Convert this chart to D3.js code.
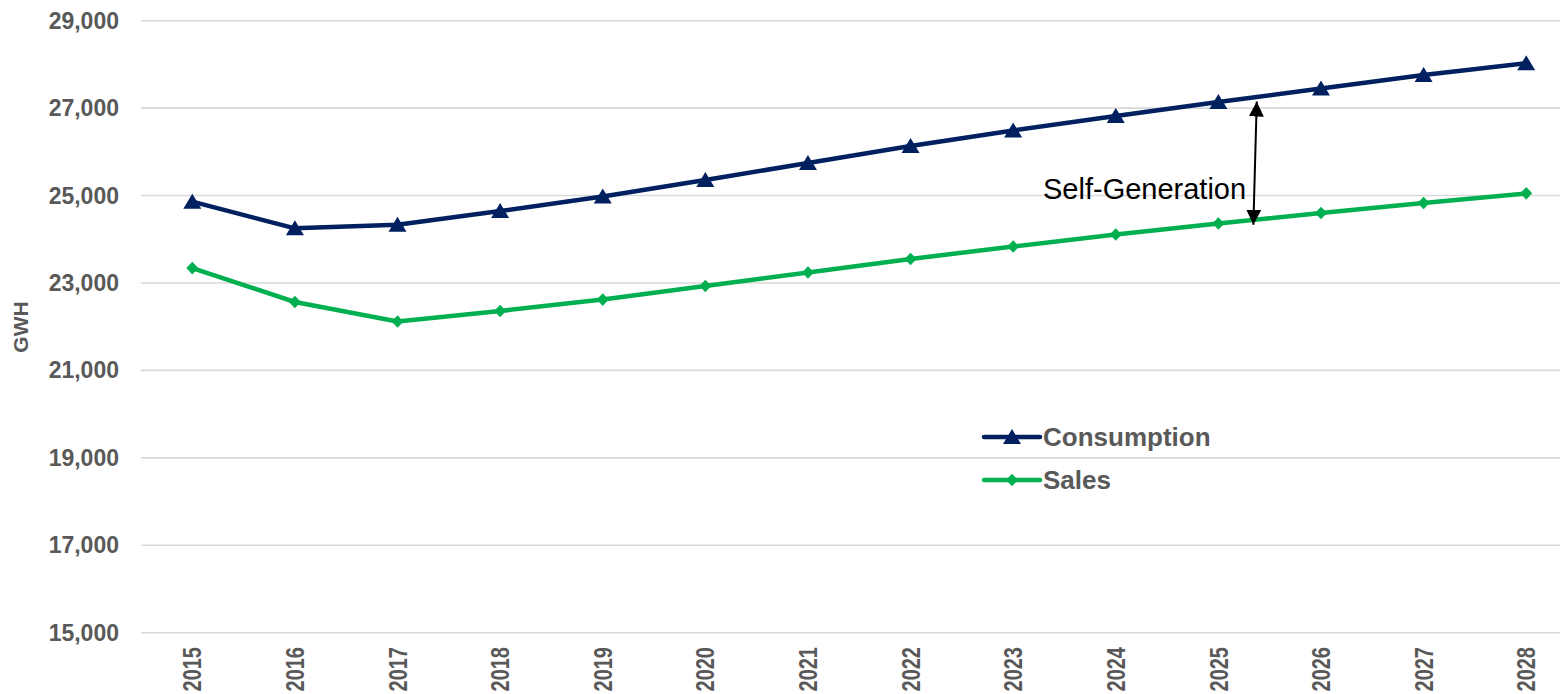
<!DOCTYPE html>
<html>
<head>
<meta charset="utf-8">
<script src="https://cdn.jsdelivr.net/npm/d3@7"></script>
<style>
  html, body { margin: 0; padding: 0; background: #fff; }
  svg { display: block; font-family: "Liberation Sans", Arial, sans-serif; }
</style>
</head>
<body>
<svg id="chart" width="1560" height="694"></svg>
<script>
// Annual energy forecast (GWH)
const years = [2015, 2016, 2017, 2018, 2019, 2020, 2021, 2022, 2023, 2024, 2025, 2026, 2027, 2028];
const consumption = [24860, 24250, 24330, 24645, 24980, 25355, 25745, 26135, 26490, 26820, 27140, 27450, 27760, 28025];
const sales = [23340, 22565, 22120, 22360, 22620, 22930, 23240, 23550, 23835, 24110, 24360, 24600, 24830, 25050];
const yTicks = [15000, 17000, 19000, 21000, 23000, 25000, 27000, 29000];

const W = 1560, H = 694;
const svg = d3.select("#chart");
const grey = "#595959";
const navy = "#002060";
const green = "#00B050";

const x = d3.scalePoint().domain(years).range([141, 1577.5]).padding(0.5);
const y = d3.scaleLinear().domain([15000, 29000]).range([632.7, 20.7]);

// horizontal gridlines
svg.append("g").selectAll("line").data(yTicks).join("line")
  .attr("x1", 141).attr("x2", W)
  .attr("y1", d => y(d)).attr("y2", d => y(d))
  .attr("stroke", "#d9d9d9").attr("stroke-width", 1.6);

// y axis labels
const fmt = d3.format(",");
svg.append("g").selectAll("text").data(yTicks).join("text")
  .attr("x", 119).attr("y", d => y(d)).attr("dy", "0.35em")
  .attr("text-anchor", "end")
  .attr("font-size", 23).attr("font-weight", "bold").attr("fill", grey)
  .text(d => fmt(d));

// y axis title
svg.append("text")
  .attr("transform", "translate(27.5,327) rotate(-90)")
  .attr("text-anchor", "middle")
  .attr("font-size", 21).attr("font-weight", "bold").attr("fill", grey)
  .text("GWH");

// x axis labels (rotated, glyphs widened across the axis)
svg.append("g").selectAll("text").data(years).join("text")
  .attr("transform", d => `translate(${x(d)},647) rotate(-90) scale(1,1.27)`)
  .attr("dy", "0.36em")
  .attr("text-anchor", "end")
  .attr("font-size", 20).attr("font-weight", "bold").attr("fill", grey)
  .text(d => d);

const triPath = "M0,-8L9,7L-9,7Z";
const diaPath = "M0,-6.3L6,0L0,6.3L-6,0Z";

function drawSeries(values, color, shape) {
  const pts = years.map((yr, i) => [x(yr), y(values[i])]);
  svg.append("path")
    .attr("d", d3.line()(pts))
    .attr("fill", "none").attr("stroke", color)
    .attr("stroke-width", 4.5).attr("stroke-linejoin", "round");
  svg.append("g").selectAll("path").data(pts).join("path")
    .attr("transform", d => `translate(${d[0]},${d[1]})`)
    .attr("d", shape).attr("fill", color);
}
drawSeries(consumption, navy, triPath);
drawSeries(sales, green, diaPath);

// self-generation annotation arrow
const step = x.step();
const ax1 = x(2025) + 0.374 * step, ay1 = y(27150);
const ax2 = x(2025) + 0.341 * step, ay2 = y(24330);
const defs = svg.append("defs");
defs.append("marker")
  .attr("id", "arrowHead").attr("viewBox", "0 0 16 16")
  .attr("refX", 15).attr("refY", 8)
  .attr("markerWidth", 16).attr("markerHeight", 16)
  .attr("markerUnits", "userSpaceOnUse")
  .attr("orient", "auto-start-reverse")
  .append("path").attr("d", "M0,0.5L15,8L0,15.5Z").attr("fill", "#000");
svg.append("line")
  .attr("x1", ax1).attr("y1", ay1).attr("x2", ax2).attr("y2", ay2)
  .attr("stroke", "#000").attr("stroke-width", 2)
  .attr("marker-start", "url(#arrowHead)")
  .attr("marker-end", "url(#arrowHead)");
svg.append("text")
  .attr("x", 1043).attr("y", 199)
  .attr("font-size", 29).attr("fill", "#000")
  .text("Self-Generation");

// legend
const legend = [
  { name: "Consumption", color: navy, shape: triPath, y: 437 },
  { name: "Sales", color: green, shape: diaPath, y: 480 }
];
const lg = svg.append("g").selectAll("g").data(legend).join("g")
  .attr("transform", d => `translate(984,${d.y})`);
lg.append("line").attr("x1", 0).attr("x2", 56).attr("y1", 0).attr("y2", 0)
  .attr("stroke", d => d.color).attr("stroke-width", 4.5).attr("stroke-linecap", "round");
lg.append("path").attr("transform", "translate(28,0)")
  .attr("d", d => d.shape).attr("fill", d => d.color);
lg.append("text").attr("x", 59).attr("y", 0).attr("dy", "0.36em")
  .attr("font-size", 26).attr("font-weight", "bold").attr("fill", grey)
  .text(d => d.name);
</script>
</body>
</html>
